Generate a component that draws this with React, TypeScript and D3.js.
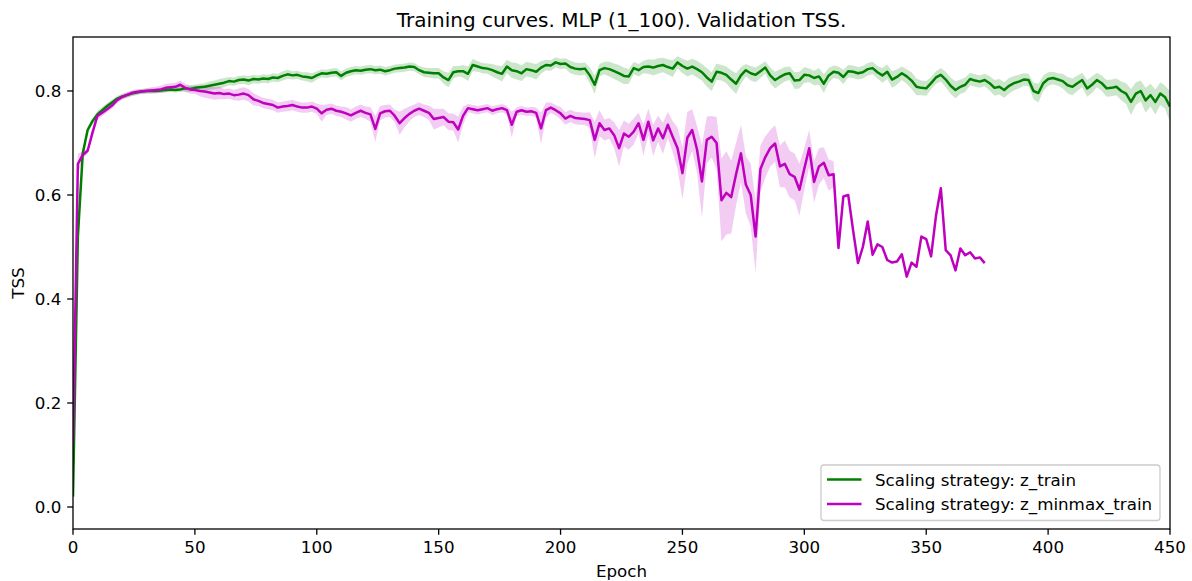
import React from "react";
import * as d3 from "d3";

// ---- data (epoch step = 2) ----
const STEP = 2;
const seriesNames = ["Scaling strategy: z_train", "Scaling strategy: z_minmax_train"];

const zTrainMean = [
  0.02, 0.52, 0.68, 0.725, 0.742, 0.755, 0.763, 0.771, 0.778, 0.785,
  0.789, 0.792, 0.795, 0.797, 0.799, 0.800, 0.800, 0.800, 0.801, 0.802,
  0.803, 0.802, 0.803, 0.805, 0.804, 0.806, 0.807, 0.808, 0.810, 0.812,
  0.814, 0.816, 0.819, 0.818, 0.821, 0.822, 0.820, 0.823, 0.822, 0.824,
  0.823, 0.826, 0.825, 0.829, 0.832, 0.830, 0.831, 0.828, 0.827, 0.825,
  0.830, 0.834, 0.833, 0.835, 0.836, 0.829, 0.835, 0.838, 0.840, 0.839,
  0.841, 0.842, 0.840, 0.841, 0.838, 0.840, 0.843, 0.844, 0.845, 0.847,
  0.846, 0.840, 0.836, 0.835, 0.834, 0.834, 0.826, 0.821, 0.836, 0.838,
  0.838, 0.833, 0.850, 0.847, 0.844, 0.843, 0.840, 0.836, 0.833, 0.847,
  0.840, 0.838, 0.834, 0.842, 0.840, 0.837, 0.845, 0.850, 0.849, 0.855,
  0.852, 0.853, 0.846, 0.843, 0.842, 0.843, 0.830, 0.812, 0.840, 0.844,
  0.842, 0.838, 0.834, 0.829, 0.828, 0.844, 0.840, 0.846, 0.847, 0.845,
  0.848, 0.850, 0.846, 0.843, 0.855, 0.848, 0.843, 0.847, 0.842, 0.836,
  0.826, 0.818, 0.837, 0.835, 0.831, 0.822, 0.814, 0.830, 0.840, 0.834,
  0.831, 0.838, 0.845, 0.830, 0.821, 0.827, 0.832, 0.834, 0.820, 0.821,
  0.831, 0.830, 0.825, 0.828, 0.814, 0.830, 0.837, 0.835, 0.827, 0.838,
  0.837, 0.834, 0.836, 0.842, 0.844, 0.836, 0.830, 0.837, 0.822, 0.827,
  0.834, 0.828, 0.820, 0.808, 0.806, 0.805, 0.815, 0.826, 0.831, 0.822,
  0.810, 0.802, 0.808, 0.812, 0.823, 0.820, 0.818, 0.821, 0.815, 0.806,
  0.808, 0.802, 0.810, 0.815, 0.818, 0.822, 0.821, 0.800, 0.796, 0.815,
  0.823, 0.825, 0.822, 0.819, 0.811, 0.808, 0.815, 0.821, 0.805, 0.812,
  0.821, 0.815, 0.805, 0.806, 0.808, 0.800, 0.795, 0.779, 0.795, 0.800,
  0.782, 0.792, 0.779, 0.795, 0.788, 0.770,
];

const zTrainStd = [
  0.02, 0.03, 0.01, 0.006, 0.006, 0.006, 0.006, 0.006, 0.005, 0.005,
  0.005, 0.005, 0.005, 0.005, 0.005, 0.005, 0.005, 0.005, 0.005, 0.005,
  0.005, 0.005, 0.005, 0.006, 0.006, 0.006, 0.007, 0.007, 0.008, 0.008,
  0.009, 0.009, 0.008, 0.008, 0.008, 0.008, 0.009, 0.008, 0.008, 0.008,
  0.008, 0.008, 0.008, 0.009, 0.009, 0.008, 0.008, 0.008, 0.009, 0.009,
  0.008, 0.008, 0.008, 0.008, 0.008, 0.009, 0.008, 0.008, 0.008, 0.008,
  0.008, 0.008, 0.008, 0.008, 0.008, 0.008, 0.008, 0.008, 0.008, 0.008,
  0.008, 0.008, 0.009, 0.009, 0.01, 0.01, 0.012, 0.014, 0.012, 0.01,
  0.012, 0.014, 0.012, 0.01, 0.01, 0.01, 0.012, 0.013, 0.015, 0.013,
  0.015, 0.016, 0.015, 0.014, 0.014, 0.015, 0.012, 0.01, 0.01, 0.01,
  0.01, 0.01, 0.012, 0.012, 0.012, 0.012, 0.015, 0.018, 0.012, 0.012,
  0.014, 0.015, 0.016, 0.016, 0.014, 0.012, 0.012, 0.012, 0.014, 0.015,
  0.015, 0.014, 0.015, 0.016, 0.012, 0.014, 0.015, 0.015, 0.016, 0.016,
  0.018, 0.018, 0.016, 0.015, 0.016, 0.018, 0.02, 0.016, 0.012, 0.014,
  0.014, 0.013, 0.012, 0.015, 0.016, 0.015, 0.014, 0.013, 0.016, 0.016,
  0.015, 0.013, 0.014, 0.016, 0.018, 0.014, 0.012, 0.012, 0.014, 0.012,
  0.012, 0.012, 0.012, 0.012, 0.012, 0.012, 0.014, 0.014, 0.016, 0.015,
  0.013, 0.014, 0.016, 0.016, 0.014, 0.014, 0.012, 0.012, 0.013, 0.015,
  0.016, 0.016, 0.014, 0.014, 0.012, 0.012, 0.012, 0.012, 0.014, 0.015,
  0.015, 0.015, 0.015, 0.014, 0.013, 0.012, 0.012, 0.016, 0.018, 0.015,
  0.013, 0.012, 0.012, 0.014, 0.016, 0.016, 0.015, 0.014, 0.016, 0.016,
  0.014, 0.015, 0.016, 0.016, 0.016, 0.018, 0.02, 0.025, 0.022, 0.02,
  0.024, 0.022, 0.024, 0.022, 0.022, 0.03,
];

const zMinmaxMean = [
  0.12, 0.66, 0.677, 0.685, 0.72, 0.752, 0.758, 0.765, 0.772, 0.782,
  0.788, 0.792, 0.796, 0.798, 0.799, 0.800, 0.801, 0.802, 0.803, 0.806,
  0.807, 0.808, 0.812, 0.806, 0.803, 0.802, 0.800, 0.799, 0.797, 0.795,
  0.796, 0.794, 0.795, 0.792, 0.793, 0.795, 0.792, 0.784, 0.781, 0.777,
  0.775, 0.773, 0.768, 0.770, 0.771, 0.773, 0.770, 0.768, 0.768, 0.770,
  0.766, 0.757, 0.764, 0.766, 0.762, 0.760, 0.757, 0.753, 0.758, 0.762,
  0.758, 0.755, 0.727, 0.757, 0.761, 0.762, 0.752, 0.738, 0.748, 0.756,
  0.762, 0.766, 0.762, 0.758, 0.746, 0.748, 0.750, 0.741, 0.740, 0.726,
  0.752, 0.767, 0.765, 0.763, 0.765, 0.767, 0.762, 0.765, 0.767, 0.763,
  0.735, 0.760, 0.763, 0.760, 0.761, 0.758, 0.728, 0.763, 0.768, 0.763,
  0.757, 0.747, 0.752, 0.748, 0.747, 0.746, 0.744, 0.706, 0.738, 0.725,
  0.728, 0.715, 0.690, 0.718, 0.712, 0.722, 0.738, 0.706, 0.741, 0.705,
  0.728, 0.709, 0.735, 0.712, 0.690, 0.642, 0.710, 0.725, 0.687, 0.626,
  0.706, 0.712, 0.700, 0.590, 0.604, 0.596, 0.640, 0.680, 0.620, 0.600,
  0.520, 0.650, 0.673, 0.690, 0.699, 0.655, 0.660, 0.640, 0.635, 0.610,
  0.651, 0.690, 0.625, 0.655, 0.662, 0.638, 0.640, 0.498, 0.597, 0.600,
  0.532, 0.469, 0.500, 0.549, 0.485, 0.505, 0.500, 0.475, 0.470, 0.472,
  0.486, 0.443, 0.470, 0.462, 0.520, 0.515, 0.482, 0.560, 0.613, 0.494,
  0.484, 0.455, 0.497, 0.484, 0.490, 0.478, 0.480, 0.469,
];

const zMinmaxStd = [
  0.02, 0.02, 0.006, 0.006, 0.008, 0.008, 0.006, 0.006, 0.006, 0.006,
  0.005, 0.005, 0.005, 0.005, 0.005, 0.005, 0.006, 0.006, 0.007, 0.008,
  0.008, 0.008, 0.008, 0.008, 0.008, 0.008, 0.01, 0.012, 0.012, 0.012,
  0.012, 0.01, 0.01, 0.01, 0.012, 0.012, 0.012, 0.012, 0.01, 0.01,
  0.01, 0.01, 0.01, 0.01, 0.01, 0.01, 0.01, 0.01, 0.01, 0.01,
  0.01, 0.016, 0.01, 0.01, 0.01, 0.01, 0.012, 0.012, 0.012, 0.012,
  0.012, 0.014, 0.025, 0.014, 0.012, 0.012, 0.012, 0.022, 0.018, 0.014,
  0.012, 0.012, 0.012, 0.014, 0.02, 0.018, 0.016, 0.016, 0.016, 0.025,
  0.018, 0.008, 0.008, 0.008, 0.008, 0.008, 0.008, 0.008, 0.008, 0.008,
  0.025, 0.008, 0.008, 0.008, 0.008, 0.01, 0.03, 0.015, 0.01, 0.01,
  0.012, 0.012, 0.012, 0.012, 0.012, 0.012, 0.015, 0.035, 0.025, 0.02,
  0.02, 0.025, 0.035, 0.025, 0.025, 0.025, 0.02, 0.03, 0.025, 0.03,
  0.025, 0.03, 0.025, 0.03, 0.04, 0.05, 0.05, 0.04, 0.045, 0.07,
  0.045, 0.04, 0.05, 0.08, 0.08, 0.07, 0.06, 0.055, 0.055, 0.06,
  0.07, 0.045, 0.04, 0.035, 0.035, 0.04, 0.045, 0.045, 0.045, 0.05,
  0.04, 0.035, 0.04, 0.035, 0.03, 0.03, 0.025, 0, 0, 0,
  0, 0, 0, 0, 0, 0, 0, 0, 0, 0,
  0, 0, 0, 0, 0, 0, 0, 0, 0, 0,
  0, 0, 0, 0, 0, 0, 0, 0,
];

const xTicks = [0, 50, 100, 150, 200, 250, 300, 350, 400, 450];
const yTicks = [0.0, 0.2, 0.4, 0.6, 0.8];
const colors = ["#008000", "#bf00bf"];

const W = 1192;
const H = 581;
const M = { left: 73, right: 1170, top: 37, bottom: 529 };
const FONT = "DejaVu Sans, sans-serif";
const FS = 16.7;
const TFS = 20;
const TICK = 5.8;

type Pt = { e: number; m: number; s: number };

export default function App() {
  const x = d3.scaleLinear().domain([0, 450]).range([M.left, M.right]);
  const y = d3.scaleLinear().domain([-0.0423, 0.9038]).range([M.bottom, M.top]);

  const toPts = (mean: number[], std: number[]): Pt[] =>
    mean.map((m, i) => ({ e: i * STEP, m, s: std[i] }));

  const series = [toPts(zTrainMean, zTrainStd), toPts(zMinmaxMean, zMinmaxStd)];

  const line = d3
    .line<Pt>()
    .x((d) => x(d.e))
    .y((d) => y(d.m));
  const area = d3
    .area<Pt>()
    .x((d) => x(d.e))
    .y0((d) => y(d.m - d.s))
    .y1((d) => y(d.m + d.s));

  return (
    <svg
      width={W}
      height={H}
      style={{ position: "absolute", left: 0, top: 0, background: "#fff" }}
      fontFamily={FONT}
    >
      <rect x={0} y={0} width={W} height={H} fill="#fff" />
      <defs>
        <clipPath id="plotclip">
          <rect x={M.left} y={M.top} width={M.right - M.left} height={M.bottom - M.top} />
        </clipPath>
      </defs>
      <g clipPath="url(#plotclip)">
        {series.map((pts, i) => (
          <path key={"a" + i} d={area(pts) || ""} fill={colors[i]} fillOpacity={0.2} stroke="none" />
        ))}
        {series.map((pts, i) => (
          <path
            key={"l" + i}
            d={line(pts) || ""}
            fill="none"
            stroke={colors[i]}
            strokeWidth={2.5}
            strokeLinejoin="round"
          />
        ))}
      </g>
      {/* spines */}
      <rect
        x={M.left}
        y={M.top}
        width={M.right - M.left}
        height={M.bottom - M.top}
        fill="none"
        stroke="#000"
        strokeWidth={1.3}
      />
      {/* x ticks */}
      {xTicks.map((t) => (
        <g key={"xt" + t}>
          <line x1={x(t)} x2={x(t)} y1={M.bottom} y2={M.bottom + TICK} stroke="#000" strokeWidth={1.3} />
          <text x={x(t)} y={553} textAnchor="middle" fontSize={FS} fill="#000">
            {t}
          </text>
        </g>
      ))}
      {/* y ticks */}
      {yTicks.map((t) => (
        <g key={"yt" + t}>
          <line x1={M.left - TICK} x2={M.left} y1={y(t)} y2={y(t)} stroke="#000" strokeWidth={1.3} />
          <text x={M.left - 2 * TICK} y={y(t) + 6} textAnchor="end" fontSize={FS} fill="#000">
            {t.toFixed(1)}
          </text>
        </g>
      ))}
      <text x={(M.left + M.right) / 2} y={577} textAnchor="middle" fontSize={FS} fill="#000">
        Epoch
      </text>
      <text
        transform={`translate(24, ${(M.top + M.bottom) / 2}) rotate(-90)`}
        textAnchor="middle"
        fontSize={FS}
        fill="#000"
      >
        TSS
      </text>
      <text x={(M.left + M.right) / 2} y={27} textAnchor="middle" fontSize={TFS} fill="#000">
        Training curves. MLP (1_100). Validation TSS.
      </text>
      {/* legend */}
      <g>
        <rect
          x={821}
          y={465}
          width={339}
          height={55.5}
          rx={3}
          ry={3}
          fill="#fff"
          fillOpacity={0.8}
          stroke="#ccc"
          strokeWidth={1.3}
        />
        {seriesNames.map((n, i) => (
          <g key={"lg" + i}>
            <line
              x1={827}
              x2={861.5}
              y1={479.5 + i * 24.5}
              y2={479.5 + i * 24.5}
              stroke={colors[i]}
              strokeWidth={2.5}
            />
            <text x={875} y={485.5 + i * 24.5} fontSize={FS} fill="#000">
              {n}
            </text>
          </g>
        ))}
      </g>
    </svg>
  );
}
